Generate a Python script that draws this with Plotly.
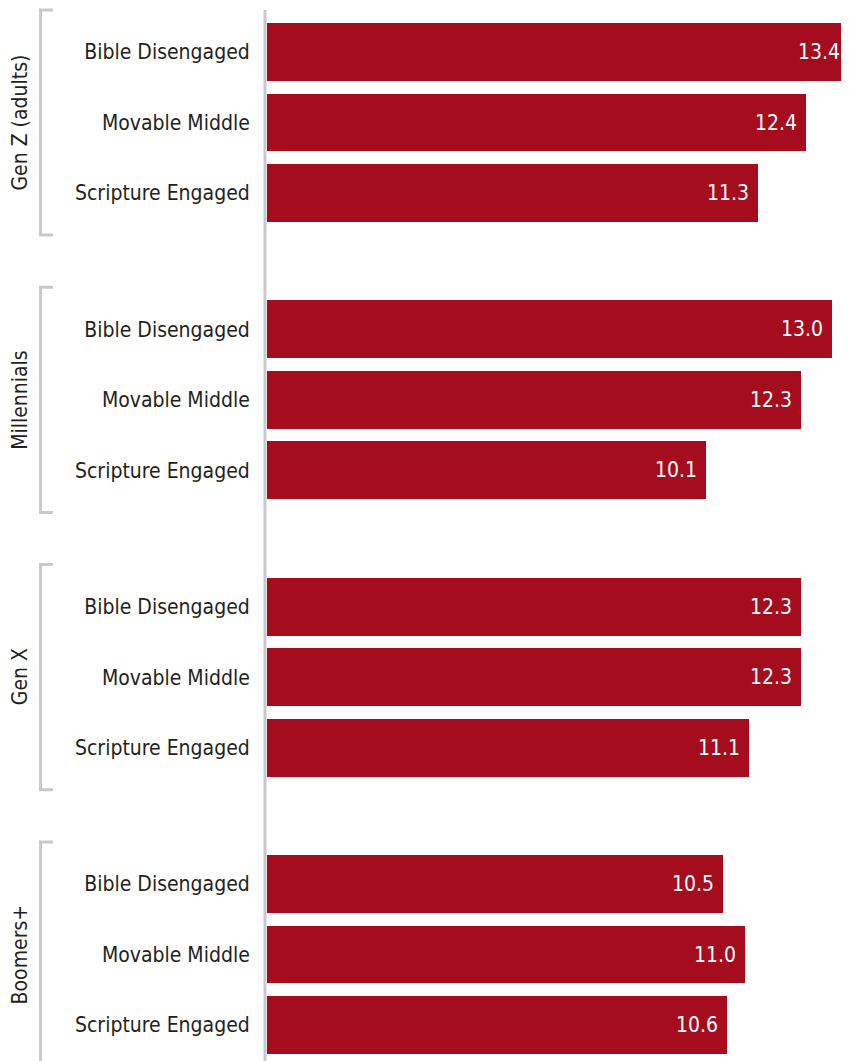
import plotly.graph_objects as go

groups = ["Gen Z (adults)", "Millennials", "Gen X", "Boomers+"]
segments = ["Bible Disengaged", "Movable Middle", "Scripture Engaged"]
values = [
    [13.4, 12.4, 11.3],
    [13.0, 12.3, 10.1],
    [12.3, 12.3, 11.1],
    [10.5, 11.0, 10.6],
]

BAR = "#A50D1F"
GRAY = "#C9C9C9"
TXT = "#231F20"
FONT = "Liberation Sans Narrow, Arial Narrow, DejaVu Sans Condensed, sans-serif"
FS = 21

OFF = 8  # default page body margin
W, H = 849 - OFF, 1061 - OFF
ML = 267 - OFF
GPITCH = 3.93  # group spacing in bar-slot units

ys, xs, labels, texts = [], [], [], []
for g, grp in enumerate(groups):
    for i, seg in enumerate(segments):
        ys.append(g * GPITCH + i)
        xs.append(values[g][i])
        labels.append(seg)
        texts.append(f"{values[g][i]:.1f}\u00a0")

px_per_unit = (1025 - 52) / ys[-1]
y_top = -(52 - OFF) / px_per_unit
y_bot = ys[-1] + (H - (1025 - OFF)) / px_per_unit

fig = go.Figure(go.Bar(
    x=xs, y=ys, orientation="h", width=0.82,
    marker=dict(color=BAR, line=dict(width=0)),
    text=texts, textposition="inside", insidetextanchor="end",
    textfont=dict(color="white", size=FS, family=FONT),
    hoverinfo="skip",
))

plot_w = W - ML


def px2paper(px):
    return (px - OFF - ML) / plot_w


shapes = []
# main vertical axis line
shapes.append(dict(type="line", xref="paper", yref="paper",
                   x0=px2paper(265), x1=px2paper(265), y0=0, y1=1 - (10 - OFF) / H,
                   line=dict(color=GRAY, width=3)))
annotations = []
for g, grp in enumerate(groups):
    y0 = g * GPITCH - 0.595
    y1 = g * GPITCH + 2 + 0.595
    bx = px2paper(40.5)
    tx = px2paper(53)
    shapes.append(dict(type="path", xref="paper", yref="y",
                       path=f"M {tx} {y0} L {bx} {y0} L {bx} {y1} L {tx} {y1}",
                       line=dict(color=GRAY, width=3)))
    annotations.append(dict(xref="paper", yref="y", x=px2paper(20), y=g * GPITCH + 1,
                            text=grp, textangle=-90, showarrow=False,
                            xanchor="center", yanchor="middle",
                            font=dict(size=FS, color=TXT, family=FONT)))

fig.update_layout(
    width=W, height=H,
    margin=dict(l=ML, r=0, t=0, b=0, autoexpand=False),
    plot_bgcolor="white", paper_bgcolor="white",
    showlegend=False,
    bargap=0,
    uniformtext=dict(minsize=FS, mode="show"),
    xaxis=dict(range=[0, 13.4], visible=False, fixedrange=True, automargin=False),
    yaxis=dict(range=[y_bot, y_top], tickvals=ys, ticktext=labels,
               showgrid=False, zeroline=False, showline=False, automargin=False,
               ticks="outside", ticklen=0, tickcolor="white",
               ticklabelstandoff=12,
               tickfont=dict(size=FS, color=TXT, family=FONT)),
    shapes=shapes,
    annotations=annotations,
)

fig.write_html("out.html")
